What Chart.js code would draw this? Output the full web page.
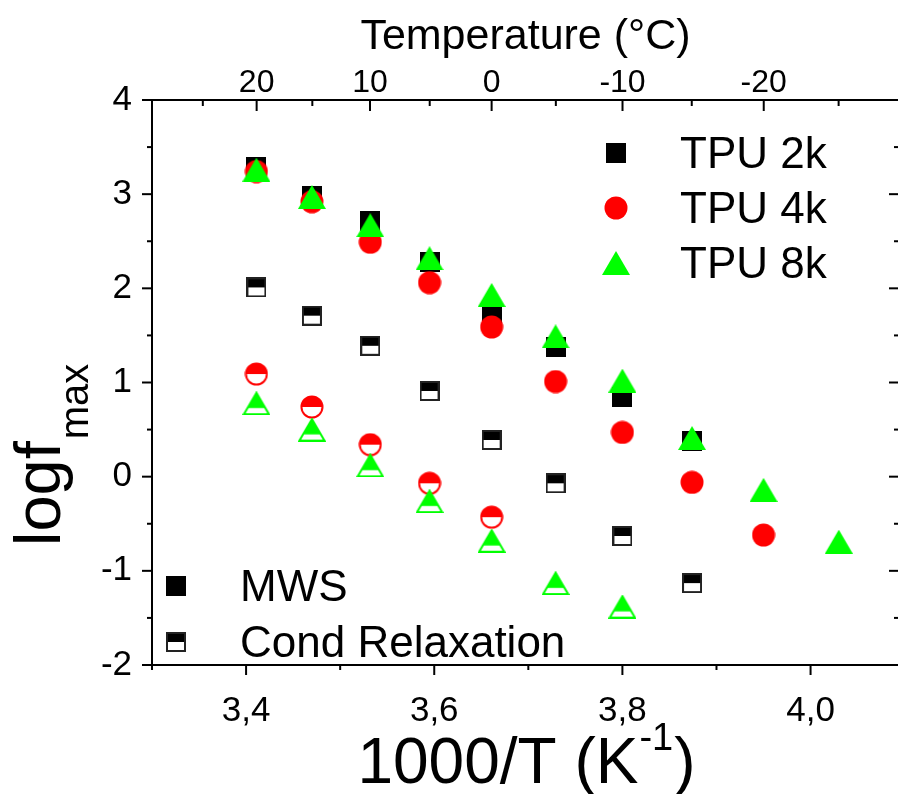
<!DOCTYPE html>
<html><head><meta charset="utf-8">
<script src="https://cdn.jsdelivr.net/npm/chart.js@4.4.1/dist/chart.umd.min.js"></script>
<style>
html,body{margin:0;padding:0;overflow:hidden;background:#fff;width:898px;height:794px}
#wrap{position:absolute;left:0;top:0;width:910px;height:794px}
</style></head>
<body><div id="wrap"><canvas id="c" width="910" height="794"></canvas></div>
<script>
// ---- data ----
const temperatures = [20, 15, 10, 5, 0, -5, -10, -15, -20, -25];
const invT = [3.411, 3.470, 3.532, 3.595, 3.661, 3.729, 3.800, 3.874, 3.950, 4.030];
const tpu2kMWS  = [3.29, 2.98, 2.72, 2.28, 1.74, 1.38, 0.85, 0.38];
const tpu4kMWS  = [3.24, 2.92, 2.49, 2.06, 1.59, 1.01, 0.47, -0.06, -0.62];
const tpu8kMWS  = [3.26, 2.97, 2.67, 2.32, 1.93, 1.49, 1.02, 0.41, -0.14, -0.69];
const tpu2kCond = [2.01, 1.71, 1.39, 0.91, 0.39, -0.07, -0.63, -1.13];
const tpu4kCond = [1.09, 0.74, 0.34, -0.07, -0.43];
const tpu8kCond = [0.78, 0.50, 0.12, -0.26, -0.68, -1.13, -1.38];
const xMajorTicks = [3.4, 3.6, 3.8, 4.0];
const xMinorTicks = [3.3, 3.5, 3.7, 3.9];
const yMajorTicks = [-2, -1, 0, 1, 2, 3, 4];
const yMinorTicks = [-1.5, -0.5, 0.5, 1.5, 2.5, 3.5];
const topMajorTemps = [20, 10, 0, -10, -20];
const topMinorTemps = [25, 15, 5, -5, -15, -25];
const seriesNames = ['TPU 2k', 'TPU 4k', 'TPU 8k'];
const typeNames = ['MWS', 'Cond Relaxation'];

const FONT = "'Liberation Sans', Arial, Helvetica, sans-serif";
const BLACK = '#000000', RED = '#ff0000', GREEN = '#00ff00';

// ---- marker images ----
function mk(w, h, draw) { const c = document.createElement('canvas'); c.width = w; c.height = h; draw(c.getContext('2d'), w, h); return c; }
const sqFull = mk(20, 20, (g) => { g.fillStyle = BLACK; g.fillRect(0, 0, 20, 20); });
const sqHalf = mk(20, 20, (g) => {
  g.fillStyle = '#fff'; g.fillRect(0, 0, 20, 20);
  g.fillStyle = BLACK; g.fillRect(0, 0, 20, 10);
  g.strokeStyle = '#222'; g.lineWidth = 2; g.strokeRect(1, 1, 18, 18);
});
const ciFull = mk(24, 24, (g) => { g.fillStyle = RED; g.beginPath(); g.arc(12, 12, 11.5, 0, Math.PI * 2); g.fill(); });
const ciHalf = mk(24, 24, (g) => {
  g.fillStyle = '#fff'; g.beginPath(); g.arc(12, 12, 10.5, 0, Math.PI * 2); g.fill();
  g.fillStyle = RED; g.beginPath(); g.arc(12, 12, 10.5, Math.PI, Math.PI * 2); g.closePath(); g.fill();
  g.strokeStyle = RED; g.lineWidth = 2; g.beginPath(); g.arc(12, 12, 10.5, 0, Math.PI * 2); g.stroke();
});
function triPath(g, w, h, inset) { g.beginPath(); g.moveTo(w / 2, inset * 1.6); g.lineTo(w - inset * 1.5, h - inset); g.lineTo(inset * 1.5, h - inset); g.closePath(); }
const trFull = mk(28, 24, (g, w, h) => { g.fillStyle = GREEN; triPath(g, w, h, 0); g.fill(); });
const trHalf = mk(28, 24, (g, w, h) => {
  g.save(); triPath(g, w, h, 1); g.clip();
  g.fillStyle = '#fff'; g.fillRect(0, 0, w, h);
  g.fillStyle = GREEN; g.fillRect(0, 0, w, h * 0.7);
  g.restore();
  g.strokeStyle = GREEN; g.lineWidth = 2; triPath(g, w, h, 1); g.stroke();
});

const pts = (ys) => ys.map((y, i) => ({ x: invT[i], y: y }));
const tempToInv = (t) => 1000 / (t + 273.15);

// ---- plugin: tick marks, titles, legends ----
const decor = {
  id: 'decor',
  afterDraw(chart) {
    const ctx = chart.ctx;
    const { left, right, top, bottom } = chart.chartArea;
    const sx = chart.scales.x, sx2 = chart.scales.x2, sy = chart.scales.y;
    ctx.save();
    ctx.strokeStyle = '#000'; ctx.lineWidth = 2;
    const line = (a, b, c, d) => { ctx.beginPath(); ctx.moveTo(a, b); ctx.lineTo(c, d); ctx.stroke(); };
    xMajorTicks.forEach(v => { const p = sx.getPixelForValue(v); line(p, bottom, p, bottom + 10); });
    xMinorTicks.forEach(v => { const p = sx.getPixelForValue(v); line(p, bottom, p, bottom + 5); });
    topMajorTemps.forEach(t => { const p = sx2.getPixelForValue(tempToInv(t)); line(p, top, p, top + 11); });
    topMinorTemps.forEach(t => { const p = sx2.getPixelForValue(tempToInv(t)); line(p, top, p, top + 6); });
    yMajorTicks.forEach(v => { const p = sy.getPixelForValue(v); line(left - 10, p, left, p); line(right - 10, p, right, p); });
    yMinorTicks.forEach(v => { const p = sy.getPixelForValue(v); line(left - 5, p, left, p); line(right - 5, p, right, p); });

    ctx.fillStyle = '#000';
    ctx.textBaseline = 'alphabetic';
    // top title
    ctx.font = '43px ' + FONT; ctx.textAlign = 'center';
    ctx.fillText('Temperature (°C)', (left + right) / 2, 49);
    // bottom title with superscript
    const mainF = '64px ' + FONT, supF = '38px ' + FONT;
    ctx.textAlign = 'left';
    ctx.font = mainF; const w1 = ctx.measureText('1000/T (K').width; const w3 = ctx.measureText(')').width;
    ctx.font = supF; const w2 = ctx.measureText('-1').width;
    let x0 = (left + right) / 2 - (w1 + w2 + w3) / 2; const yb = 783;
    ctx.font = mainF; ctx.fillText('1000/T (K', x0, yb);
    ctx.font = supF; ctx.fillText('-1', x0 + w1 + 1, yb - 33);
    ctx.font = mainF; ctx.fillText(')', x0 + w1 + w2 + 2, yb);
    // y title with subscript
    ctx.save();
    ctx.translate(60, 546); ctx.rotate(-Math.PI / 2);
    ctx.font = '65px ' + FONT; ctx.fillText('logf', 0, 0);
    const lw = ctx.measureText('logf').width;
    ctx.font = '40px ' + FONT; ctx.fillText('max', lw + 2, 28);
    ctx.restore();

    // legends
    const legFont = '44px ' + FONT;
    ctx.font = legFont; ctx.textAlign = 'left';
    const mk1 = [sqFull, ciFull, trFull];
    const rows1 = [153, 208, 263];
    seriesNames.forEach((n, i) => {
      const im = mk1[i]; ctx.drawImage(im, 616 - im.width / 2, rows1[i] - im.height / 2);
      ctx.fillText(n, 680, rows1[i] + 15);
    });
    const mk2 = [sqFull, sqHalf];
    const rows2 = [586, 642];
    typeNames.forEach((n, i) => {
      const im = mk2[i]; ctx.drawImage(im, 176 - im.width / 2, rows2[i] - im.height / 2);
      ctx.fillText(n, 240, rows2[i] + 15);
    });
    ctx.restore();
  }
};

const tickFont = { family: FONT, size: 35, lineHeight: 1 };
const topTickFont = { family: FONT, size: 32, lineHeight: 1 };
const noGrid = { display: false };
const border = { display: true, color: '#000', width: 2 };

new Chart(document.getElementById('c'), {
  type: 'scatter',
  data: {
    datasets: [
      { label: 'TPU 2k MWS', data: pts(tpu2kMWS), pointStyle: sqFull, order: 6 },
      { label: 'TPU 2k Cond Relaxation', data: pts(tpu2kCond), pointStyle: sqHalf, order: 5 },
      { label: 'TPU 4k MWS', data: pts(tpu4kMWS), pointStyle: ciFull, order: 4 },
      { label: 'TPU 4k Cond Relaxation', data: pts(tpu4kCond), pointStyle: ciHalf, order: 3 },
      { label: 'TPU 8k MWS', data: pts(tpu8kMWS), pointStyle: trFull, order: 2 },
      { label: 'TPU 8k Cond Relaxation', data: pts(tpu8kCond), pointStyle: trHalf, order: 1 }
    ]
  },
  options: {
    responsive: false,
    animation: false,
    events: [],
    layout: { padding: 0 },
    elements: { point: { radius: 10, hoverRadius: 10 } },
    plugins: { legend: { display: false }, tooltip: { enabled: false } },
    scales: {
      x: {
        type: 'linear', position: 'bottom', min: 3.3, max: 4.094,
        grid: noGrid, border: border,
        afterBuildTicks: s => { s.ticks = xMajorTicks.map(v => ({ value: v })); },
        afterFit: s => { s.height = 129; },
        ticks: { autoSkip: false, maxRotation: 0, padding: 21, color: '#000', font: tickFont,
                 callback: v => Number(v).toFixed(1).replace('.', ',') }
      },
      x2: {
        type: 'linear', position: 'top', min: 3.3, max: 4.094,
        grid: noGrid, border: border,
        afterBuildTicks: s => { s.ticks = topMajorTemps.map(t => ({ value: tempToInv(t) })); },
        afterFit: s => { s.height = 100; },
        ticks: { autoSkip: false, maxRotation: 0, padding: -7, color: '#000', font: topTickFont,
                 callback: (v, i) => String(topMajorTemps[i]) }
      },
      y: {
        type: 'linear', position: 'left', min: -2, max: 4,
        grid: noGrid, border: border,
        afterBuildTicks: s => { s.ticks = yMajorTicks.map(v => ({ value: v })); },
        afterFit: s => { s.width = 152; },
        ticks: { autoSkip: false, padding: 12, color: '#000', font: tickFont, callback: v => String(v) }
      },
      y2: {
        type: 'linear', position: 'right', min: -2, max: 4,
        grid: noGrid, border: border,
        ticks: { display: false },
        afterFit: s => { s.width = 7; }
      }
    }
  },
  plugins: [decor]
});
</script>
</body></html>
